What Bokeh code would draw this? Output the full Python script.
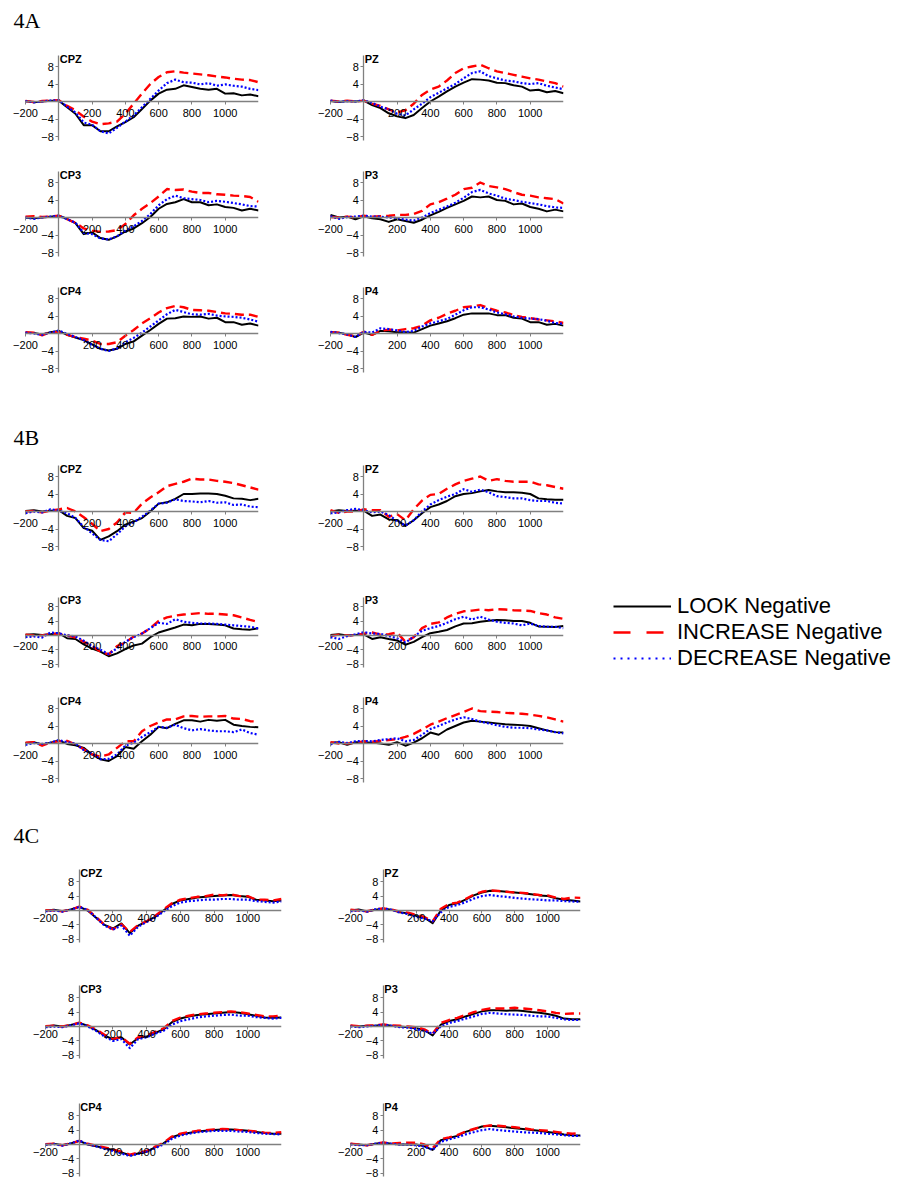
from bokeh.plotting import figure
from bokeh.layouts import column, row
from bokeh.models import Range1d, FixedTicker, Spacer, Legend, LegendItem, LinearAxis
from bokeh.embed import file_html
from bokeh.resources import INLINE
from bokeh.core.properties import value

# ---------------- data ----------------
TIME_MS = [-200, -150, -100, -50, 0, 50, 100, 150, 200, 250, 300, 350, 400, 450, 500,
           550, 600, 650, 700, 750, 800, 850, 900, 950, 1000, 1050, 1100, 1150, 1200]
SERIES_NAMES = ["LOOK Negative", "INCREASE Negative", "DECREASE Negative"]
X_TICKS = [-200, 200, 400, 600, 800, 1000]
Y_TICKS = [-8, -4, 4, 8]
SECTION_LABELS = ["4A", "4B", "4C"]
LEFT_ELECTRODES = ["CPZ", "CP3", "CP4"]
RIGHT_ELECTRODES = ["PZ", "P3", "P4"]

# 4A
A_CPZ_LOOK = [0.1, -0.2, 0.0, 0.2, 0.2, -1.3, -2.8, -5.4, -5.4, -6.8, -6.8, -5.7, -4.7, -3.6, -1.7, 0.2, 1.8, 2.7, 2.9, 3.7, 3.3, 2.9, 2.7, 2.9, 1.8, 1.9, 1.4, 1.6, 1.2]
A_CPZ_INC = [0.1, -0.1, 0.1, 0.2, 0.3, -1.0, -2.0, -3.5, -4.6, -5.2, -5.0, -4.6, -2.8, -0.5, 1.8, 4.0, 5.6, 6.7, 6.9, 6.6, 6.4, 6.2, 6.0, 5.7, 5.5, 5.2, 5.0, 4.9, 4.4]
A_CPZ_DEC = [0.1, -0.2, 0.0, 0.2, 0.3, -1.2, -2.5, -4.8, -5.3, -6.8, -7.3, -6.0, -4.6, -3.2, -1.3, 0.6, 2.5, 4.2, 5.0, 4.4, 4.3, 3.9, 4.2, 3.6, 3.9, 3.6, 3.4, 2.9, 2.6]
A_PZ_LOOK = [0.1, -0.1, 0.1, 0.0, 0.2, -0.8, -1.5, -2.7, -3.4, -3.8, -3.1, -1.5, 0.0, 1.1, 2.3, 3.4, 4.3, 5.1, 5.0, 4.8, 4.3, 4.2, 3.7, 3.4, 2.5, 2.7, 2.1, 2.4, 1.9]
A_PZ_INC = [0.2, 0.0, 0.2, 0.0, 0.2, -0.5, -1.0, -1.8, -2.5, -2.0, -0.5, 1.5, 2.7, 3.4, 4.8, 6.5, 7.6, 8.0, 8.4, 7.6, 6.9, 6.5, 6.1, 5.7, 5.3, 5.0, 4.6, 4.2, 3.4]
A_PZ_DEC = [0.2, -0.1, 0.1, 0.0, 0.3, -0.3, -1.2, -1.8, -2.8, -3.2, -1.8, -0.5, 1.0, 2.0, 3.0, 4.0, 5.3, 6.5, 6.9, 5.8, 5.3, 4.8, 4.6, 4.2, 4.0, 4.2, 3.6, 3.2, 2.8]
A_CP3_LOOK = [0.0, -0.2, 0.0, 0.2, 0.4, -0.3, -1.3, -3.8, -3.4, -4.7, -5.1, -4.3, -3.2, -2.5, -1.3, 0.1, 2.0, 3.1, 3.5, 4.2, 3.5, 3.5, 2.8, 3.0, 2.4, 2.2, 1.6, 2.0, 1.6]
A_CP3_INC = [0.2, 0.3, 0.1, 0.2, 0.4, -0.4, -1.2, -2.5, -3.0, -3.3, -3.2, -2.9, -1.5, 0.5, 2.0, 3.3, 4.8, 6.5, 6.3, 6.4, 5.9, 5.6, 5.6, 5.3, 5.2, 5.0, 4.9, 4.7, 3.6]
A_CP3_DEC = [0.0, -0.3, 0.0, 0.2, 0.4, -0.4, -1.2, -3.5, -3.8, -4.8, -5.0, -4.3, -3.0, -2.0, -0.8, 0.8, 2.8, 4.2, 5.0, 4.4, 4.2, 4.0, 3.5, 3.8, 3.6, 3.3, 3.0, 2.6, 2.5]
A_P3_LOOK = [0.6, 0.0, 0.2, -0.4, 0.3, -0.2, -0.4, -1.0, -0.4, -0.8, -1.2, -0.5, 0.5, 1.3, 2.2, 3.0, 3.8, 4.8, 4.6, 4.8, 4.0, 3.8, 3.0, 3.2, 2.4, 2.0, 1.4, 1.8, 1.4]
A_P3_INC = [0.1, 0.0, 0.2, 0.0, 0.4, 0.2, 0.3, 0.4, 0.6, 0.6, 0.8, 1.5, 3.0, 3.5, 4.3, 5.2, 6.5, 6.8, 8.0, 7.2, 6.9, 6.5, 5.8, 5.2, 5.0, 4.6, 4.4, 4.2, 3.2]
A_P3_DEC = [0.3, -0.3, 0.1, 0.2, 0.4, 0.2, 0.2, 0.0, -0.1, -0.5, -0.7, 0.0, 1.0, 1.8, 2.5, 3.4, 4.5, 5.8, 6.3, 5.5, 5.0, 4.3, 4.0, 3.6, 3.3, 3.0, 2.6, 2.3, 2.2]
A_CP4_LOOK = [0.2, 0.1, -0.2, 0.3, 0.6, -0.3, -0.9, -1.5, -2.5, -3.5, -3.9, -3.5, -2.4, -1.8, -0.5, 0.8, 2.2, 3.4, 3.5, 3.9, 3.8, 3.9, 3.4, 3.6, 2.6, 2.6, 2.0, 2.3, 1.8]
A_CP4_INC = [0.3, 0.2, -0.4, 0.3, 0.3, -0.3, -0.8, -1.2, -1.6, -2.4, -2.4, -2.0, -0.5, 0.8, 2.3, 3.5, 4.8, 5.8, 6.3, 6.0, 5.4, 5.3, 5.2, 4.9, 4.6, 4.5, 4.3, 4.3, 3.8]
A_CP4_DEC = [0.2, 0.0, -0.3, 0.2, 0.7, -0.1, -0.8, -1.5, -2.6, -3.5, -4.0, -3.4, -2.0, -1.0, 0.2, 1.6, 3.0, 4.4, 5.4, 4.9, 4.4, 4.3, 4.5, 4.1, 3.9, 3.8, 3.6, 3.2, 2.7]
A_P4_LOOK = [0.3, 0.2, -0.2, -0.8, 0.2, -0.3, 0.6, 0.5, 0.3, 0.3, 0.2, 1.0, 1.8, 2.3, 2.8, 3.5, 4.3, 4.6, 4.6, 4.6, 4.2, 4.2, 3.6, 3.4, 2.6, 2.6, 2.0, 2.2, 1.8]
A_P4_INC = [0.3, 0.2, -0.3, -0.6, 0.4, -0.3, 0.6, 0.9, 0.7, 1.0, 1.2, 1.8, 3.0, 3.6, 4.5, 5.2, 6.0, 6.2, 6.5, 5.8, 5.2, 4.8, 4.2, 3.8, 3.5, 3.2, 3.0, 2.8, 2.4]
A_P4_DEC = [0.4, 0.1, -0.2, -0.8, 0.4, 0.2, 1.2, 1.0, 0.7, 0.3, 0.6, 1.6, 2.3, 2.8, 3.3, 4.3, 5.3, 6.0, 6.0, 5.5, 4.8, 4.4, 3.9, 3.6, 3.4, 3.3, 2.9, 2.4, 2.2]

# 4B
B_CPZ_LOOK = [0.1, 0.3, 0.0, 0.2, 0.3, -1.0, -1.5, -3.8, -4.4, -6.5, -5.7, -4.5, -3.0, -2.3, -1.5, 0.0, 1.8, 2.1, 2.9, 4.0, 4.0, 4.1, 4.1, 4.0, 3.6, 3.0, 2.9, 2.6, 2.9]
B_CPZ_INC = [0.0, 0.1, -0.2, 0.2, 0.5, 0.8, 0.0, -1.3, -2.8, -4.5, -4.0, -2.5, -0.2, -0.3, 1.8, 3.2, 4.4, 5.8, 6.3, 6.8, 7.5, 7.3, 7.3, 7.0, 6.8, 6.5, 6.0, 5.5, 5.0]
B_CPZ_DEC = [-0.4, 0.0, -0.2, 0.5, 0.2, -0.4, -1.5, -3.5, -5.0, -6.5, -6.8, -5.2, -3.4, -2.5, -1.2, 0.2, 1.8, 2.0, 2.8, 2.4, 2.3, 2.1, 2.4, 2.0, 2.1, 1.5, 1.6, 1.1, 1.0]
B_PZ_LOOK = [0.0, 0.3, 0.1, 0.2, 0.2, -1.0, -0.7, -1.8, -2.0, -3.3, -2.0, -0.4, 1.0, 1.6, 2.4, 3.5, 4.0, 4.2, 4.6, 4.9, 4.6, 4.4, 4.4, 4.3, 4.0, 3.0, 2.8, 2.7, 2.7]
B_PZ_INC = [0.3, -0.3, 0.0, 0.0, 0.5, 0.3, 0.3, -1.2, -0.6, -2.0, 0.5, 2.5, 3.8, 4.0, 5.2, 6.2, 7.0, 7.5, 8.0, 7.0, 7.4, 7.0, 6.8, 6.8, 6.8, 6.2, 6.0, 5.6, 5.2]
B_PZ_DEC = [-0.4, -0.2, 0.3, 0.6, 0.3, -0.2, 0.0, -0.8, -2.2, -3.2, -2.0, 0.0, 1.6, 2.6, 3.4, 4.0, 5.1, 4.5, 5.0, 4.4, 3.5, 3.3, 3.0, 3.0, 2.6, 2.4, 2.4, 2.0, 1.8]
B_CP3_LOOK = [0.2, 0.3, 0.1, 0.3, 0.6, -0.8, -1.0, -2.5, -3.7, -4.5, -5.8, -5.0, -3.8, -2.8, -2.3, -0.5, 0.8, 1.5, 2.2, 3.0, 2.8, 3.2, 3.2, 3.0, 2.8, 1.9, 1.7, 1.6, 2.0]
B_CP3_INC = [0.2, 0.0, 0.0, 0.3, 0.5, 0.0, -0.6, -1.8, -3.0, -4.5, -5.3, -3.0, -2.0, -0.3, 0.5, 2.0, 4.0, 5.0, 5.5, 5.8, 6.0, 6.2, 6.0, 6.0, 5.8, 5.6, 5.0, 4.3, 3.7]
B_CP3_DEC = [-0.5, -0.3, -0.6, 0.8, 0.6, 0.0, -0.3, -1.5, -3.0, -4.0, -5.2, -3.6, -1.8, -0.5, 0.5, 2.0, 3.5, 3.2, 4.5, 3.8, 3.5, 3.3, 3.3, 3.2, 3.0, 2.8, 2.6, 2.4, 1.9]
B_P3_LOOK = [0.1, 0.3, 0.0, 0.1, 0.3, -1.0, -0.5, -1.0, -1.4, -2.6, -1.8, -0.5, 0.6, 1.0, 1.5, 2.5, 3.3, 3.4, 3.8, 4.1, 4.3, 4.2, 4.0, 4.0, 3.5, 2.5, 2.4, 2.3, 2.6]
B_P3_INC = [-0.2, 0.2, 0.0, 0.0, 0.5, 0.8, 0.2, 0.3, 0.8, -1.8, -0.5, 2.0, 3.2, 3.6, 5.0, 6.0, 6.7, 6.9, 7.2, 7.0, 7.3, 7.2, 7.0, 6.9, 6.8, 6.2, 5.8, 5.0, 4.6]
B_P3_DEC = [-0.5, -1.0, -0.2, 0.3, 0.9, 0.5, 0.4, -0.2, -0.8, -2.0, -0.4, 1.3, 2.0, 2.6, 3.5, 4.5, 5.2, 4.4, 5.2, 4.4, 3.8, 3.5, 3.3, 2.8, 3.3, 2.6, 2.4, 2.4, 2.0]
B_CP4_LOOK = [0.1, 0.3, -0.2, 0.2, 0.7, -0.1, -0.4, -1.0, -2.5, -3.6, -4.0, -2.9, -0.8, -1.2, 0.5, 2.0, 3.8, 3.5, 4.5, 5.3, 5.3, 5.0, 5.4, 5.2, 5.4, 4.3, 4.0, 3.8, 3.7]
B_CP4_INC = [0.2, 0.3, -0.5, 0.2, 0.5, 0.6, -0.2, -1.3, -2.5, -3.0, -2.5, -1.0, 0.5, 0.5, 2.8, 4.0, 4.8, 5.5, 5.5, 6.2, 6.3, 6.1, 6.2, 6.2, 6.3, 5.7, 5.6, 5.1, 5.0]
B_CP4_DEC = [-0.3, 0.1, -0.1, 0.2, 0.8, 0.3, 0.0, -1.5, -2.3, -3.6, -3.5, -2.5, -0.5, 0.2, 1.5, 2.6, 3.8, 3.6, 4.3, 3.5, 3.0, 3.3, 3.0, 2.8, 2.8, 2.6, 3.2, 2.4, 2.0]
B_P4_LOOK = [0.2, 0.3, -0.3, 0.3, 0.3, 0.2, 0.0, -0.3, 0.3, -0.5, 0.2, 1.2, 2.5, 2.0, 3.2, 4.0, 4.8, 5.2, 5.0, 4.8, 4.6, 4.4, 4.3, 4.2, 4.0, 3.5, 3.0, 2.6, 2.5]
B_P4_INC = [0.3, 0.0, 0.0, 0.2, 0.5, 0.4, 0.6, 0.8, 1.0, 1.5, 2.2, 3.2, 4.3, 5.0, 5.8, 6.5, 7.2, 8.0, 7.4, 7.3, 7.2, 7.0, 6.9, 6.8, 6.6, 6.3, 6.0, 5.5, 5.0]
B_P4_DEC = [-0.2, 0.4, 0.1, 0.5, 0.6, 0.5, 0.8, 1.0, 1.2, 0.5, 0.8, 2.0, 3.3, 4.0, 4.8, 5.5, 6.0, 5.6, 5.0, 4.6, 4.2, 3.8, 3.6, 3.6, 3.5, 3.2, 3.0, 2.6, 2.3]

# 4C
C_CPZ_LOOK = [0.0, 0.2, -0.2, 0.3, 1.0, 0.0, -2.0, -4.0, -5.0, -3.6, -6.3, -4.2, -3.0, -1.8, 0.0, 1.8, 2.8, 3.2, 3.6, 3.8, 4.0, 4.2, 4.3, 4.0, 3.8, 3.0, 2.8, 2.6, 2.8]
C_CPZ_INC = [0.1, 0.0, -0.2, 0.2, 1.1, 0.2, -1.8, -4.0, -5.2, -3.8, -6.0, -4.0, -3.0, -1.5, 0.3, 2.0, 3.0, 3.4, 3.8, 4.0, 4.4, 4.2, 4.5, 4.0, 4.0, 3.0, 3.0, 2.8, 3.2]
C_CPZ_DEC = [-0.2, 0.0, -0.3, 0.2, 1.0, 0.2, -2.0, -4.2, -5.3, -4.2, -7.0, -4.5, -3.2, -2.0, -0.3, 1.2, 2.2, 2.6, 2.8, 3.0, 3.0, 3.2, 3.2, 3.0, 3.0, 2.6, 2.4, 2.2, 2.5]
C_PZ_LOOK = [0.0, 0.3, -0.3, 0.2, 0.5, 0.2, -0.5, -0.8, -1.5, -2.0, -3.5, 0.0, 1.5, 2.0, 3.0, 4.2, 5.0, 5.5, 5.4, 5.2, 5.0, 4.8, 4.5, 4.2, 4.0, 3.4, 3.0, 2.8, 2.5]
C_PZ_INC = [0.2, 0.0, -0.2, 0.3, 0.6, 0.3, -0.3, -0.6, -1.2, -1.8, -3.0, 0.5, 1.8, 2.2, 3.2, 4.4, 5.2, 5.6, 5.4, 5.2, 5.0, 4.9, 4.6, 4.3, 4.2, 3.6, 3.2, 3.6, 3.5]
C_PZ_DEC = [-0.2, 0.0, -0.3, 0.3, 0.6, 0.2, -0.6, -1.0, -1.8, -2.2, -3.0, -0.5, 1.0, 1.5, 2.3, 3.3, 4.0, 4.3, 4.0, 3.8, 3.5, 3.3, 3.1, 3.0, 2.8, 2.8, 2.6, 2.5, 2.4]
C_CP3_LOOK = [0.0, 0.3, 0.0, 0.4, 1.0, 0.2, -1.0, -2.5, -3.6, -3.0, -5.0, -3.2, -2.8, -1.8, -0.8, 1.2, 2.2, 2.8, 3.2, 3.4, 3.6, 3.8, 4.0, 3.8, 3.4, 3.0, 2.5, 2.4, 2.5]
C_CP3_INC = [0.1, 0.2, 0.0, 0.4, 1.1, 0.3, -0.8, -2.3, -3.4, -3.0, -4.8, -3.0, -2.5, -1.5, -0.5, 1.5, 2.5, 3.0, 3.4, 3.6, 3.8, 4.0, 4.2, 4.0, 3.6, 3.2, 2.8, 2.8, 3.0]
C_CP3_DEC = [-0.2, 0.0, -0.2, 0.3, 0.9, 0.0, -1.2, -2.8, -4.0, -3.5, -6.0, -3.5, -3.0, -2.0, -1.2, 0.5, 1.5, 2.0, 2.5, 2.8, 3.0, 3.2, 3.3, 3.0, 3.0, 2.6, 2.4, 2.2, 2.4]
C_P3_LOOK = [0.2, 0.0, 0.2, 0.2, 0.5, 0.2, 0.0, -0.2, -0.5, -1.0, -2.5, 0.5, 1.5, 2.0, 2.8, 3.5, 4.2, 4.5, 4.5, 4.4, 4.5, 4.3, 4.0, 3.8, 3.5, 3.0, 2.2, 2.0, 2.0]
C_P3_INC = [0.3, 0.1, 0.2, 0.3, 0.6, 0.3, 0.2, 0.0, -0.2, -0.8, -2.0, 1.0, 1.8, 2.4, 3.2, 4.0, 4.6, 5.0, 5.0, 5.0, 5.2, 5.0, 4.8, 4.5, 4.2, 3.8, 3.5, 3.6, 3.6]
C_P3_DEC = [0.0, -0.2, 0.0, 0.2, 0.5, 0.2, -0.2, -0.3, -0.8, -1.2, -2.0, 0.0, 1.0, 1.5, 2.2, 2.8, 3.5, 3.8, 3.6, 3.4, 3.3, 3.2, 3.0, 2.8, 2.8, 2.4, 2.0, 1.8, 1.8]
C_CP4_LOOK = [0.0, 0.2, -0.2, 0.3, 1.0, 0.0, -0.5, -1.0, -1.5, -2.2, -3.0, -2.5, -2.0, -0.8, 0.3, 2.0, 2.8, 3.2, 3.6, 3.8, 4.0, 4.2, 4.2, 4.0, 3.8, 3.5, 3.2, 3.0, 3.0]
C_CP4_INC = [0.1, 0.2, -0.2, 0.3, 1.0, 0.2, -0.3, -0.8, -1.4, -2.0, -2.8, -2.3, -1.8, -0.6, 0.5, 2.2, 3.0, 3.4, 3.8, 4.0, 4.2, 4.3, 4.2, 4.0, 3.8, 3.6, 3.3, 3.2, 3.4]
C_CP4_DEC = [-0.1, 0.1, -0.3, 0.3, 1.1, 0.1, -0.5, -1.2, -1.8, -2.5, -3.2, -2.6, -2.0, -1.0, 0.0, 1.6, 2.5, 3.0, 3.4, 3.6, 3.8, 3.8, 3.8, 3.6, 3.5, 3.2, 3.0, 2.9, 2.8]
C_P4_LOOK = [0.2, 0.0, -0.2, 0.2, 0.5, 0.2, 0.0, 0.0, 0.0, -0.5, -1.5, 1.2, 1.8, 2.4, 3.5, 4.2, 5.0, 5.2, 5.0, 4.8, 4.5, 4.3, 4.0, 3.8, 3.5, 3.2, 2.8, 2.6, 2.5]
C_P4_INC = [0.2, 0.0, -0.2, 0.2, 0.6, 0.3, 0.4, 0.5, 0.5, 0.0, -1.0, 1.5, 2.0, 2.6, 3.6, 4.3, 5.0, 5.3, 5.2, 5.0, 4.8, 4.5, 4.2, 4.0, 3.8, 3.5, 3.2, 3.0, 3.2]
C_P4_DEC = [0.0, -0.2, -0.2, 0.2, 0.5, 0.2, 0.0, 0.0, -0.2, -0.6, -1.5, 0.8, 1.4, 2.0, 2.8, 3.4, 4.0, 4.3, 4.0, 3.8, 3.6, 3.4, 3.3, 3.2, 3.0, 2.8, 2.6, 2.4, 2.4]

PANEL_DATA = {
    ("4A", "CPZ"): (A_CPZ_LOOK, A_CPZ_INC, A_CPZ_DEC), ("4A", "PZ"): (A_PZ_LOOK, A_PZ_INC, A_PZ_DEC),
    ("4A", "CP3"): (A_CP3_LOOK, A_CP3_INC, A_CP3_DEC), ("4A", "P3"): (A_P3_LOOK, A_P3_INC, A_P3_DEC),
    ("4A", "CP4"): (A_CP4_LOOK, A_CP4_INC, A_CP4_DEC), ("4A", "P4"): (A_P4_LOOK, A_P4_INC, A_P4_DEC),
    ("4B", "CPZ"): (B_CPZ_LOOK, B_CPZ_INC, B_CPZ_DEC), ("4B", "PZ"): (B_PZ_LOOK, B_PZ_INC, B_PZ_DEC),
    ("4B", "CP3"): (B_CP3_LOOK, B_CP3_INC, B_CP3_DEC), ("4B", "P3"): (B_P3_LOOK, B_P3_INC, B_P3_DEC),
    ("4B", "CP4"): (B_CP4_LOOK, B_CP4_INC, B_CP4_DEC), ("4B", "P4"): (B_P4_LOOK, B_P4_INC, B_P4_DEC),
    ("4C", "CPZ"): (C_CPZ_LOOK, C_CPZ_INC, C_CPZ_DEC), ("4C", "PZ"): (C_PZ_LOOK, C_PZ_INC, C_PZ_DEC),
    ("4C", "CP3"): (C_CP3_LOOK, C_CP3_INC, C_CP3_DEC), ("4C", "P3"): (C_P3_LOOK, C_P3_INC, C_P3_DEC),
    ("4C", "CP4"): (C_CP4_LOOK, C_CP4_INC, C_CP4_DEC), ("4C", "P4"): (C_P4_LOOK, C_P4_INC, C_P4_DEC),
}

# ---------------- styles / layout ----------------
SANS = "Liberation Sans"
SERIF = "Liberation Serif"
AXIS_COLOR = "#808080"
STYLES = [
    dict(line_color="#000000", line_width=2.0, line_dash="solid"),
    dict(line_color="#FF0000", line_width=2.4, line_dash="9 5"),
    dict(line_color="#0000FF", line_width=2.2, line_dash="2 2"),
]
LEGEND_STYLES = [
    dict(line_color="#000000", line_width=2.0, line_dash="solid"),
    dict(line_color="#FF0000", line_width=2.4, line_dash="17 16"),
    dict(line_color="#0000FF", line_width=2.2, line_dash="2 5"),
]

LEFT_W, RIGHT_W, REST_W = 300, 292, 305
PAD = 15  # px of empty frame left of -200 so the "-200" label is not clipped

SECTION_GEOM = {
    "4A": dict(header_h=43, label_mid=20, rows_h=[116, 116, 115], pxu=4.375, top_b=7,
               zero_px=51, below_px=44, title_px=43, xstand=4,
               left=(25, 233), right=(330 - LEFT_W, 233)),
    "4B": dict(header_h=63, label_mid=47, rows_h=[116, 116, 115], pxu=4.375, top_b=7,
               zero_px=51, below_px=44, title_px=43, xstand=4,
               left=(25, 233), right=(330 - LEFT_W, 233)),
    "4C": dict(header_h=64, label_mid=35, rows_h=[116, 118, 97], pxu=3.6, top_b=0,
               zero_px=46, below_px=38, title_px=38, xstand=0,
               left=(45, 236), right=(350 - LEFT_W, 230)),
}


def make_panel(title, series, cell_w, cell_h, pos200, width_px, g):
    pxu = g["pxu"]
    ppm = width_px / 1400.0
    left_b = pos200 - PAD
    frame_w = width_px + PAD
    frame_h = g["zero_px"] + g["below_px"]
    y_end = g["zero_px"] / pxu
    y_start = -g["below_px"] / pxu
    p = figure(width=cell_w, height=cell_h, output_backend="svg", toolbar_location=None,
               title=None,
               x_range=Range1d(-200 - PAD / ppm, 1200), y_range=Range1d(y_start, y_end),
               x_axis_location=None, y_axis_location=None,
               min_border_left=left_b, min_border_right=cell_w - left_b - frame_w,
               min_border_top=g["top_b"], min_border_bottom=cell_h - g["top_b"] - frame_h)
    p.outline_line_color = None
    p.grid.visible = False
    for ys, st in zip(series, STYLES):
        p.line(TIME_MS, ys, line_join="round", **st)
    xa = LinearAxis(fixed_location=0, ticker=FixedTicker(ticks=X_TICKS), bounds=(-200, 1200))
    ya = LinearAxis(fixed_location=0, ticker=FixedTicker(ticks=Y_TICKS),
                    bounds=(-9.0, (g["title_px"] + 3) / pxu))
    for ax in (xa, ya):
        ax.axis_line_color = AXIS_COLOR
        ax.axis_line_width = 1.3
        ax.major_tick_line_color = AXIS_COLOR
        ax.major_tick_in = 0
        ax.major_tick_out = 3
        ax.minor_tick_line_color = None
        ax.major_label_text_font = SANS
        ax.major_label_text_font_size = "11px"
        ax.major_label_text_color = "#000000"
    xa.major_label_standoff = g["xstand"]
    ya.major_label_standoff = 2
    p.add_layout(xa, "below")
    p.add_layout(ya, "left")
    p.text(x=[0], y=[g["title_px"] / pxu], text=[title], x_offset=1, text_baseline="middle",
           text_font=value(SANS), text_font_style="bold", text_font_size="11px",
           text_color="#000000")
    return p


def make_header(label, w, h, y_mid):
    p = figure(width=w, height=h, output_backend="svg", toolbar_location=None, title=None,
               x_range=Range1d(0, w), y_range=Range1d(h, 0),
               x_axis_location=None, y_axis_location=None,
               min_border_left=0, min_border_right=0, min_border_top=0, min_border_bottom=0)
    p.outline_line_color = None
    p.grid.visible = False
    p.text(x=[13], y=[y_mid], text=[label], text_baseline="middle",
           text_font=value(SERIF), text_font_size="22px", text_color="#000000")
    return p


def make_legend(w, h, left_b, top_b):
    p = figure(width=w, height=h, output_backend="svg", toolbar_location=None, title=None,
               x_range=Range1d(0, 1), y_range=Range1d(0, 1),
               x_axis_location=None, y_axis_location=None,
               min_border_left=left_b, min_border_right=4, min_border_top=top_b,
               min_border_bottom=4)
    p.outline_line_color = None
    p.grid.visible = False
    items = []
    for name, st in zip(SERIES_NAMES, LEGEND_STYLES):
        r = p.line([5, 6], [5, 6], **st)   # outside the visible range: legend swatch only
        items.append(LegendItem(label=name, renderers=[r]))
    leg = Legend(items=items, location="top_left", glyph_width=58, glyph_height=20,
                 label_standoff=6, spacing=-2, padding=4, margin=0,
                 label_text_font=SANS, label_text_font_size="22px",
                 label_text_color="#000000",
                 border_line_color=None, background_fill_alpha=0)
    p.add_layout(leg, "center")
    return p


children = []
for sec in SECTION_LABELS:
    g = SECTION_GEOM[sec]
    children.append(make_header(sec, LEFT_W + RIGHT_W + REST_W, g["header_h"], g["label_mid"]))
    for i, (le, re) in enumerate(zip(LEFT_ELECTRODES, RIGHT_ELECTRODES)):
        h = g["rows_h"][i]
        lp = make_panel(le, PANEL_DATA[(sec, le)], LEFT_W, h, g["left"][0], g["left"][1], g)
        rp = make_panel(re, PANEL_DATA[(sec, re)], RIGHT_W, h, g["right"][0], g["right"][1], g)
        if sec == "4B" and i == 1:
            extra = make_legend(REST_W, h, 21, 24)
        else:
            extra = Spacer(width=REST_W, height=h)
        children.append(row(lp, rp, extra))

layout = column(*children)
open("out.html", "w").write(file_html(layout, INLINE))
